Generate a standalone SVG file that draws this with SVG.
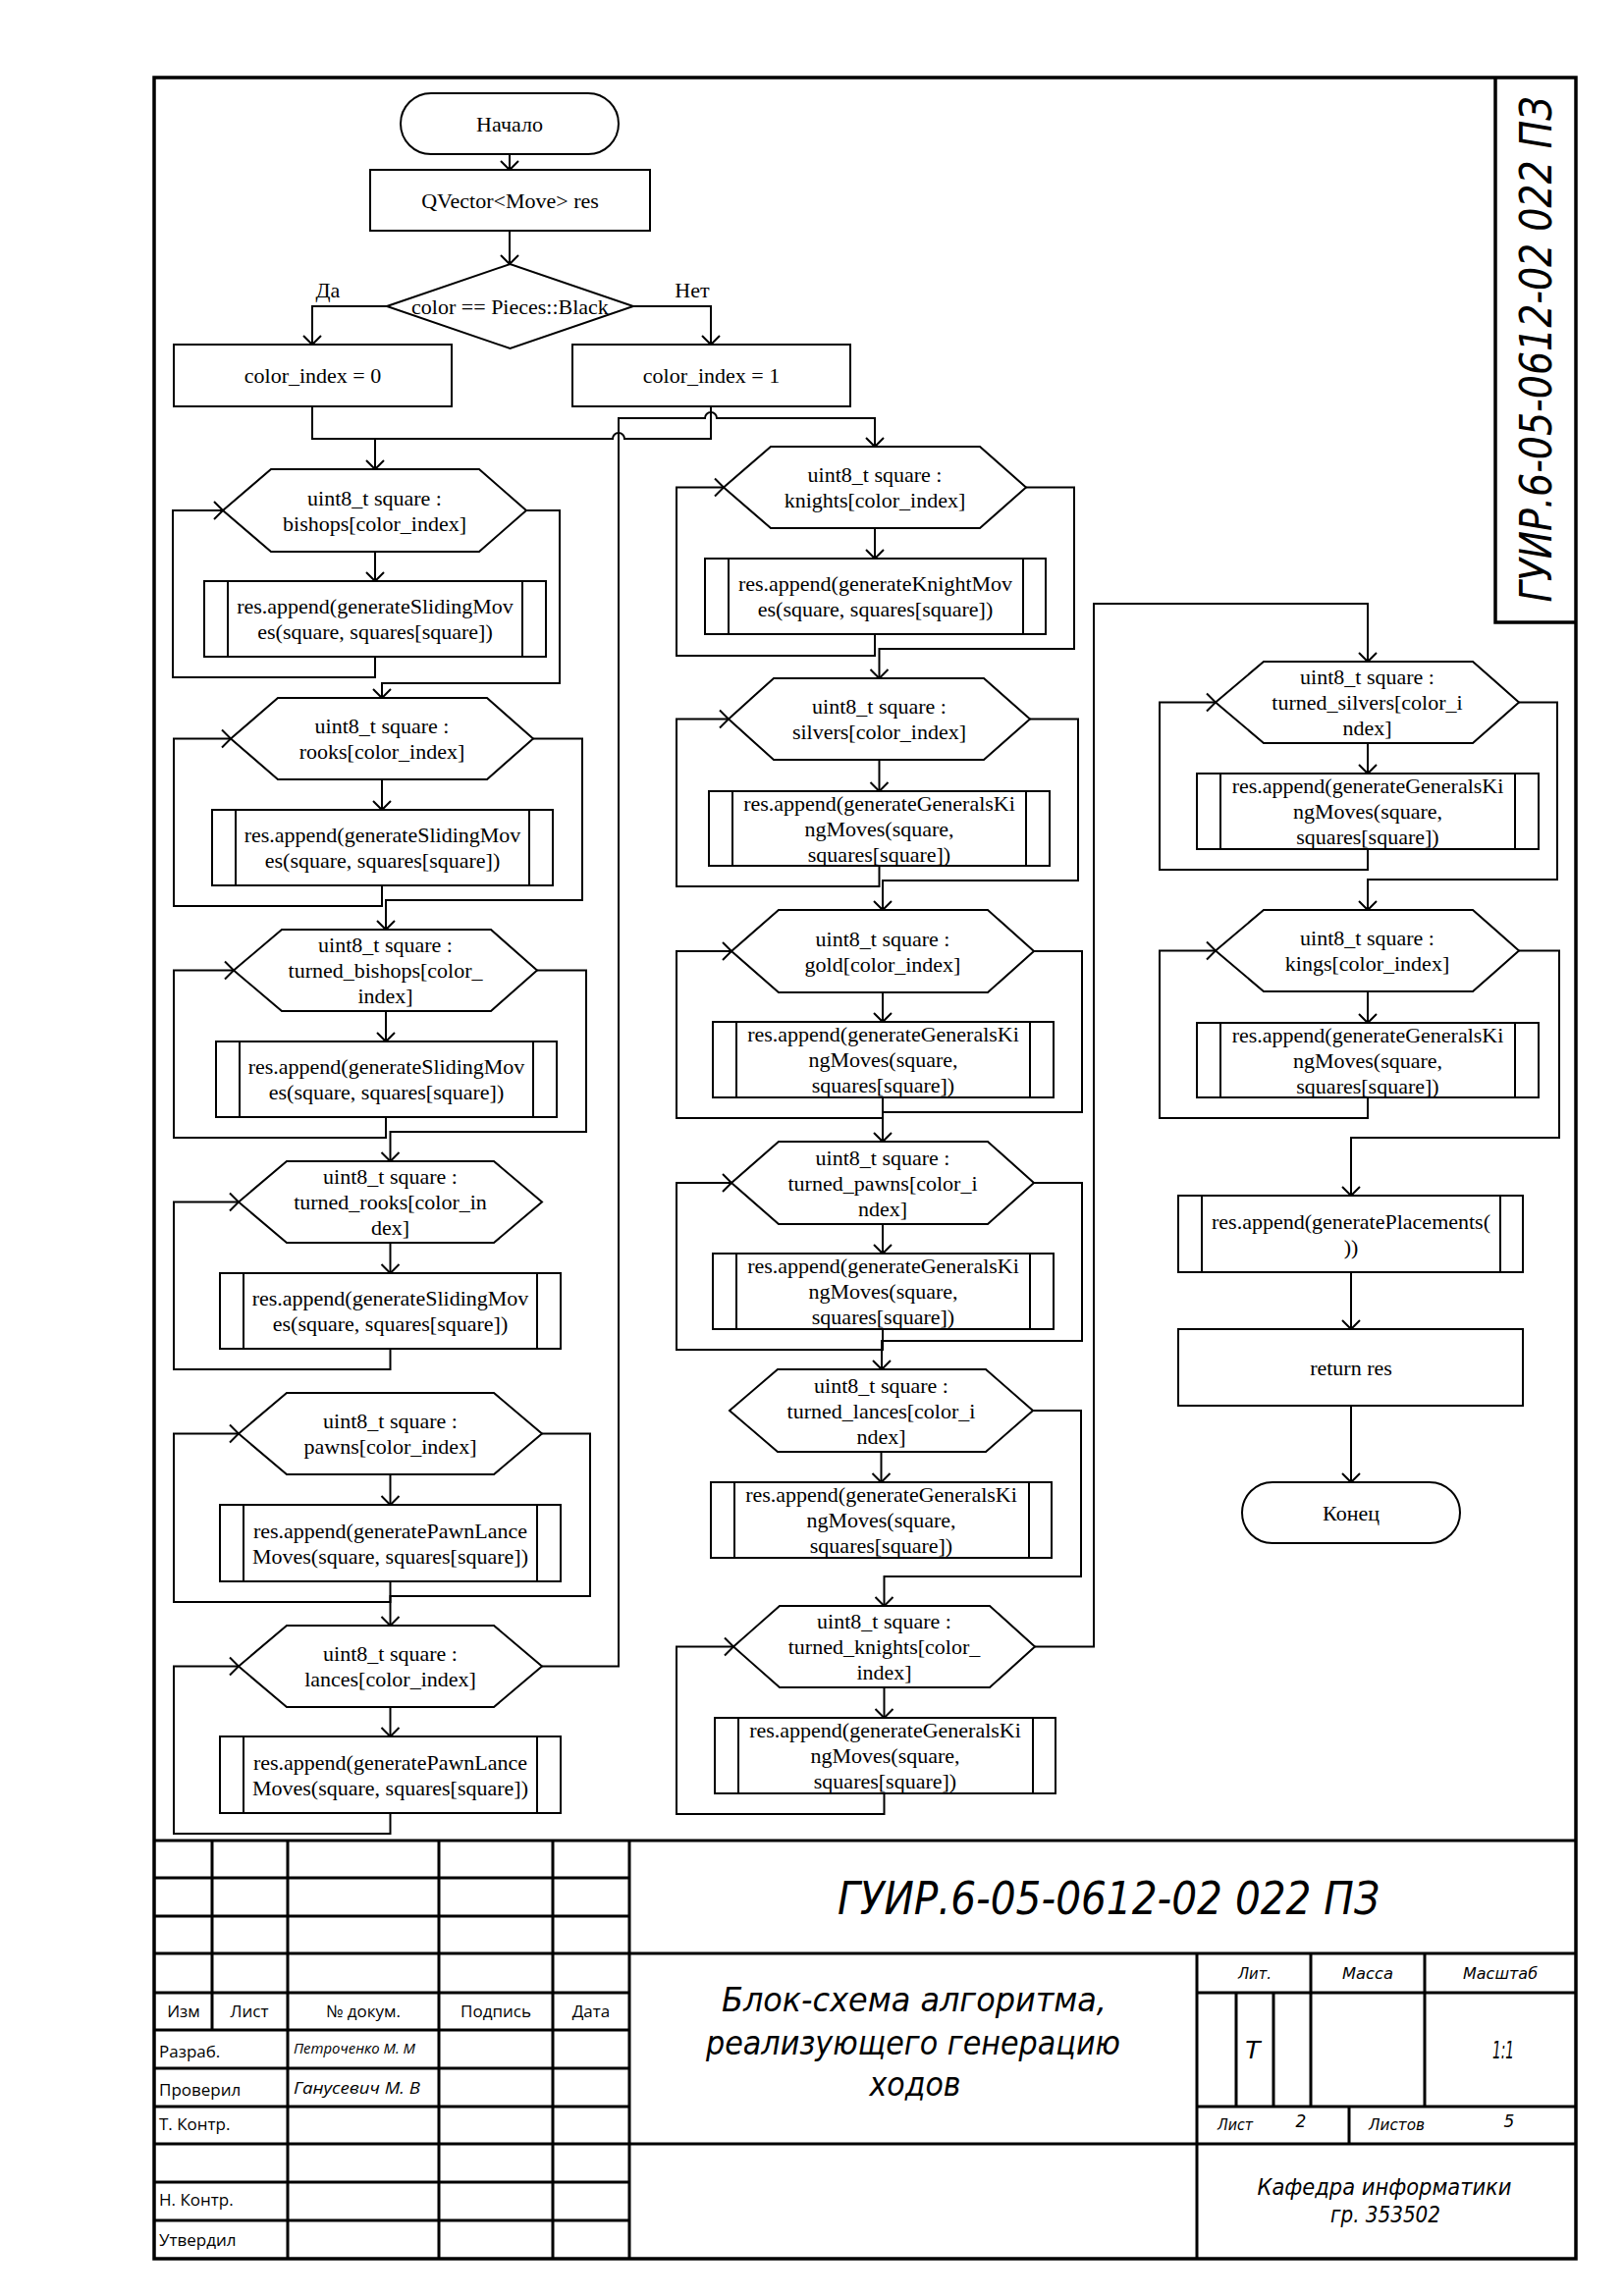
<svg xmlns="http://www.w3.org/2000/svg" width="1654" height="2339" viewBox="0 0 1654 2339">
<style>
.s{fill:#fff;stroke:#000;stroke-width:2}
.c{fill:none;stroke:#000;stroke-width:2}
.t{font-family:"Liberation Serif","Times New Roman",serif;font-size:22px;text-anchor:middle;fill:#000}
.fr{fill:none;stroke:#000;stroke-width:3.5}
.g{fill:none;stroke:#000;stroke-width:3}
.st{font-family:"Open Sans","Noto Sans",sans-serif;font-size:17px;fill:#000}
.ni{font-family:"Open Sans","Noto Sans",sans-serif;font-style:italic;fill:#000}
.gi{font-family:"DejaVu Sans","Open Sans",sans-serif;font-style:italic;fill:#000}
</style>
<defs>
<marker id="a" markerUnits="userSpaceOnUse" markerWidth="24" markerHeight="24" viewBox="-12 -12 24 24" refX="0" refY="0" orient="auto"><path d="M-9,-9 L0,0 L-9,9" fill="none" stroke="#000" stroke-width="2"/></marker>
</defs>
<rect width="1654" height="2339" fill="#fff"/>

<!-- frame -->
<g id="frame">
<rect class="fr" x="157" y="79" width="1448" height="2222"/>
<path class="fr" d="M1523,79 V634 H1605"/>
<text class="gi" transform="translate(1580,356) rotate(-90)" font-size="44" text-anchor="middle" textLength="515" lengthAdjust="spacingAndGlyphs">ГУИР.6-05-0612-02 022 ПЗ</text>
</g>

<!-- connectors -->
<g id="connectors" class="c">
<path d="M519,157 V173" marker-end="url(#a)"/>
<path d="M519,235 V269" marker-end="url(#a)"/>
<path d="M394,312 H318 V351" marker-end="url(#a)"/>
<path d="M645,312 H724 V351" marker-end="url(#a)"/>
<path d="M318,414 V447 H624 a6,6 0 0 1 12,0 H724 V414"/>
<path d="M382,447 V478" marker-end="url(#a)"/>
<!-- left column -->
<path d="M382,562 V592" marker-end="url(#a)"/>
<path d="M382,669 V690 H176 V520 H227" marker-end="url(#a)"/>
<path d="M536,520 H570 V696 H389 V711" marker-end="url(#a)"/>
<path d="M389,794 V825" marker-end="url(#a)"/>
<path d="M389,902 V923 H177 V752.5 H235" marker-end="url(#a)"/>
<path d="M543,752.5 H593 V917 H393 V947" marker-end="url(#a)"/>
<path d="M393,1030 V1061" marker-end="url(#a)"/>
<path d="M393,1138 V1159 H177 V988.5 H238" marker-end="url(#a)"/>
<path d="M547,988.5 H597 V1153 H397.5 V1183" marker-end="url(#a)"/>
<path d="M397.5,1266 V1297" marker-end="url(#a)"/>
<path d="M397.5,1374 V1395 H177 V1224.5 H243" marker-end="url(#a)"/>
<path d="M397.5,1502 V1533" marker-end="url(#a)"/>
<path d="M397.5,1611 V1632 H177 V1460.5 H243" marker-end="url(#a)"/>
<path d="M552,1460.5 H601 V1626 H397.5 V1656" marker-end="url(#a)"/>
<path d="M397.5,1739 V1769" marker-end="url(#a)"/>
<path d="M397.5,1847 V1868 H177 V1697.5 H243" marker-end="url(#a)"/>
<path d="M552,1697.5 H630 V426 H718 a6,6 0 0 1 12,0 H891 V455" marker-end="url(#a)"/>
<!-- middle column -->
<path d="M891,538 V569" marker-end="url(#a)"/>
<path d="M891,646 V668 H689 V496.5 H737" marker-end="url(#a)"/>
<path d="M1045,496.5 H1094 V661 H895.5 V691" marker-end="url(#a)"/>
<path d="M895.5,774 V806" marker-end="url(#a)"/>
<path d="M895.5,882 V903 H689 V732.5 H742" marker-end="url(#a)"/>
<path d="M1049,732.5 H1098 V897 H899 V927" marker-end="url(#a)"/>
<path d="M899,1011 V1041" marker-end="url(#a)"/>
<path d="M899,1118 V1139 H689 V969 H745" marker-end="url(#a)"/>
<path d="M1053,969 H1102 V1133 H899 V1163" marker-end="url(#a)"/>
<path d="M899,1247 V1277" marker-end="url(#a)"/>
<path d="M899,1354 V1375 H689 V1205 H745" marker-end="url(#a)"/>
<path d="M1053,1205 H1102 V1366 H898 V1395" marker-end="url(#a)"/>
<path d="M897.5,1479 V1510" marker-end="url(#a)"/>
<path d="M1052,1437 H1101 V1606 H900.5 V1636" marker-end="url(#a)"/>
<path d="M900.5,1719 V1750" marker-end="url(#a)"/>
<path d="M900.5,1827 V1848 H689 V1677.5 H747" marker-end="url(#a)"/>
<path d="M1054,1677.5 H1114 V615 H1393 V674" marker-end="url(#a)"/>
<!-- right column -->
<path d="M1393,757 V788" marker-end="url(#a)"/>
<path d="M1393,865 V886 H1181 V715.5 H1238" marker-end="url(#a)"/>
<path d="M1547,715.5 H1586 V896 H1393 V927" marker-end="url(#a)"/>
<path d="M1393,1010 V1042" marker-end="url(#a)"/>
<path d="M1393,1118 V1139 H1181 V968.5 H1238" marker-end="url(#a)"/>
<path d="M1547,968.5 H1588 V1159 H1376 V1218" marker-end="url(#a)"/>
<path d="M1376,1296 V1354" marker-end="url(#a)"/>
<path d="M1376,1432 V1510" marker-end="url(#a)"/>
</g>
<g id="labels">
<text class="t" x="334" y="303">Да</text>
<text class="t" x="705" y="303">Нет</text>
</g>

<!-- top nodes -->
<g id="start"><rect class="s" x="408" y="95" width="222" height="62" rx="31"/><text class="t" x="519" y="133.5">Начало</text></g>
<g id="init"><rect class="s" x="377" y="173" width="285" height="62"/><text class="t" x="519.5" y="211.5">QVector&lt;Move&gt; res</text></g>
<g id="cond"><polygon class="s" points="394,312 519.5,269 645,312 519.5,355"/><text class="t" x="519.5" y="319.5">color == Pieces::Black</text></g>
<g id="ci0"><rect class="s" x="177" y="351" width="283" height="63"/><text class="t" x="318.5" y="390">color_index = 0</text></g>
<g id="ci1"><rect class="s" x="583" y="351" width="283" height="63"/><text class="t" x="724.5" y="390">color_index = 1</text></g>

<!-- left column -->
<g id="loop_bishops"><polygon class="s" points="227,520 276,478 488,478 536,520 488,562 276,562"/><text class="t" x="381.5" y="514.5">uint8_t square :</text><text class="t" x="381.5" y="540.5">bishops[color_index]</text></g>
<g id="proc_bishops"><rect class="s" x="208" y="592" width="348" height="77"/><path class="c" d="M232,592 V669 M532,592 V669"/><text class="t" x="382" y="625">res.append(generateSlidingMov</text><text class="t" x="382" y="651">es(square, squares[square])</text></g>

<g id="loop_rooks"><polygon class="s" points="235,752.5 283,711 496,711 543,752.5 496,794 283,794"/><text class="t" x="389" y="747">uint8_t square :</text><text class="t" x="389" y="773">rooks[color_index]</text></g>
<g id="proc_rooks"><rect class="s" x="216" y="825" width="347" height="77"/><path class="c" d="M240,825 V902 M539,825 V902"/><text class="t" x="389.5" y="858">res.append(generateSlidingMov</text><text class="t" x="389.5" y="884">es(square, squares[square])</text></g>

<g id="loop_turned_bishops"><polygon class="s" points="238,988.5 287,947 500,947 547,988.5 500,1030 287,1030"/><text class="t" x="392.5" y="970">uint8_t square :</text><text class="t" x="392.5" y="996">turned_bishops[color_</text><text class="t" x="392.5" y="1022">index]</text></g>
<g id="proc_turned_bishops"><rect class="s" x="220" y="1061" width="347" height="77"/><path class="c" d="M244,1061 V1138 M543,1061 V1138"/><text class="t" x="393.5" y="1094">res.append(generateSlidingMov</text><text class="t" x="393.5" y="1120">es(square, squares[square])</text></g>

<g id="loop_turned_rooks"><polygon class="s" points="243,1224.5 292,1183 503,1183 552,1224.5 503,1266 292,1266"/><text class="t" x="397.5" y="1206">uint8_t square :</text><text class="t" x="397.5" y="1232">turned_rooks[color_in</text><text class="t" x="397.5" y="1258">dex]</text></g>
<g id="proc_turned_rooks"><rect class="s" x="224" y="1297" width="347" height="77"/><path class="c" d="M248,1297 V1374 M547,1297 V1374"/><text class="t" x="397.5" y="1330">res.append(generateSlidingMov</text><text class="t" x="397.5" y="1356">es(square, squares[square])</text></g>

<g id="loop_pawns"><polygon class="s" points="243,1460.5 292,1419 503,1419 552,1460.5 503,1502 292,1502"/><text class="t" x="397.5" y="1455">uint8_t square :</text><text class="t" x="397.5" y="1481">pawns[color_index]</text></g>
<g id="proc_pawns"><rect class="s" x="224" y="1533" width="347" height="78"/><path class="c" d="M248,1533 V1611 M547,1533 V1611"/><text class="t" x="397.5" y="1566.5">res.append(generatePawnLance</text><text class="t" x="397.5" y="1592.5">Moves(square, squares[square])</text></g>

<g id="loop_lances"><polygon class="s" points="243,1697.5 292,1656 503,1656 552,1697.5 503,1739 292,1739"/><text class="t" x="397.5" y="1692">uint8_t square :</text><text class="t" x="397.5" y="1718">lances[color_index]</text></g>
<g id="proc_lances"><rect class="s" x="224" y="1769" width="347" height="78"/><path class="c" d="M248,1769 V1847 M547,1769 V1847"/><text class="t" x="397.5" y="1802.5">res.append(generatePawnLance</text><text class="t" x="397.5" y="1828.5">Moves(square, squares[square])</text></g>

<!-- middle column -->
<g id="loop_knights"><polygon class="s" points="737,496.5 785,455 998,455 1045,496.5 998,538 785,538"/><text class="t" x="891" y="491">uint8_t square :</text><text class="t" x="891" y="517">knights[color_index]</text></g>
<g id="proc_knights"><rect class="s" x="718" y="569" width="347" height="77"/><path class="c" d="M742,569 V646 M1042,569 V646"/><text class="t" x="891.5" y="602">res.append(generateKnightMov</text><text class="t" x="891.5" y="628">es(square, squares[square])</text></g>

<g id="loop_silvers"><polygon class="s" points="742,732.5 788,691 1002,691 1049,732.5 1002,774 788,774"/><text class="t" x="895.5" y="727">uint8_t square :</text><text class="t" x="895.5" y="753">silvers[color_index]</text></g>
<g id="proc_silvers"><rect class="s" x="722" y="806" width="347" height="76"/><path class="c" d="M746,806 V882 M1045,806 V882"/><text class="t" x="895.5" y="825.5">res.append(generateGeneralsKi</text><text class="t" x="895.5" y="851.5">ngMoves(square,</text><text class="t" x="895.5" y="877.5">squares[square])</text></g>

<g id="loop_gold"><polygon class="s" points="745,969 793,927 1006,927 1053,969 1006,1011 793,1011"/><text class="t" x="899" y="963.5">uint8_t square :</text><text class="t" x="899" y="989.5">gold[color_index]</text></g>
<g id="proc_gold"><rect class="s" x="726" y="1041" width="347" height="77"/><path class="c" d="M750,1041 V1118 M1049,1041 V1118"/><text class="t" x="899.5" y="1061">res.append(generateGeneralsKi</text><text class="t" x="899.5" y="1087">ngMoves(square,</text><text class="t" x="899.5" y="1113">squares[square])</text></g>

<g id="loop_turned_pawns"><polygon class="s" points="745,1205 793,1163 1006,1163 1053,1205 1006,1247 793,1247"/><text class="t" x="899" y="1186.5">uint8_t square :</text><text class="t" x="899" y="1212.5">turned_pawns[color_i</text><text class="t" x="899" y="1238.5">ndex]</text></g>
<g id="proc_turned_pawns"><rect class="s" x="726" y="1277" width="347" height="77"/><path class="c" d="M750,1277 V1354 M1049,1277 V1354"/><text class="t" x="899.5" y="1297">res.append(generateGeneralsKi</text><text class="t" x="899.5" y="1323">ngMoves(square,</text><text class="t" x="899.5" y="1349">squares[square])</text></g>

<g id="loop_turned_lances"><polygon class="s" points="743,1437 792,1395 1004,1395 1052,1437 1004,1479 792,1479"/><text class="t" x="897.5" y="1418.5">uint8_t square :</text><text class="t" x="897.5" y="1444.5">turned_lances[color_i</text><text class="t" x="897.5" y="1470.5">ndex]</text></g>
<g id="proc_turned_lances"><rect class="s" x="724" y="1510" width="347" height="77"/><path class="c" d="M748,1510 V1587 M1048,1510 V1587"/><text class="t" x="897.5" y="1530">res.append(generateGeneralsKi</text><text class="t" x="897.5" y="1556">ngMoves(square,</text><text class="t" x="897.5" y="1582">squares[square])</text></g>

<g id="loop_turned_knights"><polygon class="s" points="747,1677.5 794,1636 1008,1636 1054,1677.5 1008,1719 794,1719"/><text class="t" x="900.5" y="1659">uint8_t square :</text><text class="t" x="900.5" y="1685">turned_knights[color_</text><text class="t" x="900.5" y="1711">index]</text></g>
<g id="proc_turned_knights"><rect class="s" x="728" y="1750" width="347" height="77"/><path class="c" d="M752,1750 V1827 M1052,1750 V1827"/><text class="t" x="901.5" y="1770">res.append(generateGeneralsKi</text><text class="t" x="901.5" y="1796">ngMoves(square,</text><text class="t" x="901.5" y="1822">squares[square])</text></g>

<!-- right column -->
<g id="loop_turned_silvers"><polygon class="s" points="1238,715.5 1287,674 1500,674 1547,715.5 1500,757 1287,757"/><text class="t" x="1392.5" y="697">uint8_t square :</text><text class="t" x="1392.5" y="723">turned_silvers[color_i</text><text class="t" x="1392.5" y="749">ndex]</text></g>
<g id="proc_turned_silvers"><rect class="s" x="1219" y="788" width="348" height="77"/><path class="c" d="M1243,788 V865 M1543,788 V865"/><text class="t" x="1393" y="808">res.append(generateGeneralsKi</text><text class="t" x="1393" y="834">ngMoves(square,</text><text class="t" x="1393" y="860">squares[square])</text></g>

<g id="loop_kings"><polygon class="s" points="1238,968.5 1287,927 1500,927 1547,968.5 1500,1010 1287,1010"/><text class="t" x="1392.5" y="963">uint8_t square :</text><text class="t" x="1392.5" y="989">kings[color_index]</text></g>
<g id="proc_kings"><rect class="s" x="1219" y="1042" width="348" height="76"/><path class="c" d="M1243,1042 V1118 M1543,1042 V1118"/><text class="t" x="1393" y="1061.5">res.append(generateGeneralsKi</text><text class="t" x="1393" y="1087.5">ngMoves(square,</text><text class="t" x="1393" y="1113.5">squares[square])</text></g>

<g id="proc_placements"><rect class="s" x="1200" y="1218" width="351" height="78"/><path class="c" d="M1224,1218 V1296 M1528,1218 V1296"/><text class="t" x="1376" y="1251.5">res.append(generatePlacements(</text><text class="t" x="1376" y="1277.5">))</text></g>
<g id="ret"><rect class="s" x="1200" y="1354" width="351" height="78"/><text class="t" x="1376" y="1400.5">return res</text></g>
<g id="end"><rect class="s" x="1265" y="1510" width="222" height="62" rx="31"/><text class="t" x="1376" y="1548.5">Конец</text></g>

<!-- title block -->
<g id="stamp">
<path class="g" d="M157,1875 H1605 M157,1990 H1605 M157,2184 H1605"/>
<path class="g" d="M157,1913 H641 M157,1952 H641 M157,2030 H641 M157,2068 H641 M157,2107 H641 M157,2146 H641 M157,2223 H641 M157,2262 H641"/>
<path class="g" d="M216,1875 V2068 M293,1875 V2301 M447,1875 V2301 M563,1875 V2301 M641,1875 V2301 M1219,1990 V2301"/>
<path class="g" d="M1219,2030 H1605 M1219,2146 H1605 M1335,1990 V2146 M1451,1990 V2146 M1259,2030 V2146 M1297,2030 V2146 M1374,2146 V2184"/>
<text class="st" x="187" y="2055" text-anchor="middle">Изм</text>
<text class="st" x="254" y="2055" text-anchor="middle">Лист</text>
<text class="st" x="370" y="2055" text-anchor="middle">№ докум.</text>
<text class="st" x="505" y="2055" text-anchor="middle">Подпись</text>
<text class="st" x="602" y="2055" text-anchor="middle">Дата</text>
<text class="st" x="162" y="2096">Разраб.</text>
<text class="st" x="162" y="2135">Проверил</text>
<text class="st" x="162" y="2170">Т. Контр.</text>
<text class="st" x="162" y="2247">Н. Контр.</text>
<text class="st" x="162" y="2288">Утвердил</text>
<text class="ni" x="299" y="2092" font-size="14" textLength="124" lengthAdjust="spacingAndGlyphs">Петроченко М. М</text>
<text class="ni" x="299" y="2133" font-size="17" textLength="129" lengthAdjust="spacingAndGlyphs">Ганусевич М. В</text>
<text class="gi" x="1129" y="1950" font-size="46" text-anchor="middle" textLength="552" lengthAdjust="spacingAndGlyphs">ГУИР.6-05-0612-02 022 ПЗ</text>
<text class="gi" x="931" y="2049" font-size="34" text-anchor="middle" textLength="392" lengthAdjust="spacingAndGlyphs">Блок-схема алгоритма,</text>
<text class="gi" x="930" y="2093" font-size="34" text-anchor="middle" textLength="422" lengthAdjust="spacingAndGlyphs">реализующего генерацию</text>
<text class="gi" x="932" y="2135" font-size="34" text-anchor="middle" textLength="93" lengthAdjust="spacingAndGlyphs">ходов</text>
<text class="gi" x="1278" y="2016" font-size="16" text-anchor="middle" textLength="34" lengthAdjust="spacingAndGlyphs">Лит.</text>
<text class="gi" x="1393" y="2016" font-size="16" text-anchor="middle" textLength="52" lengthAdjust="spacingAndGlyphs">Масса</text>
<text class="gi" x="1528" y="2016" font-size="16" text-anchor="middle" textLength="76" lengthAdjust="spacingAndGlyphs">Масштаб</text>
<text class="gi" x="1276" y="2097" font-size="25" text-anchor="middle">Т</text>
<text class="gi" x="1531" y="2097" font-size="25" text-anchor="middle" textLength="22" lengthAdjust="spacingAndGlyphs">1:1</text>
<text class="gi" x="1240" y="2170" font-size="16" textLength="36" lengthAdjust="spacingAndGlyphs">Лист</text>
<text class="gi" x="1325" y="2167" font-size="17" text-anchor="middle">2</text>
<text class="gi" x="1394" y="2170" font-size="16" textLength="57" lengthAdjust="spacingAndGlyphs">Листов</text>
<text class="gi" x="1537" y="2167" font-size="17" text-anchor="middle">5</text>
<text class="gi" x="1410" y="2236" font-size="23" text-anchor="middle" textLength="259" lengthAdjust="spacingAndGlyphs">Кафедра информатики</text>
<text class="gi" x="1411" y="2264" font-size="23" text-anchor="middle" textLength="112" lengthAdjust="spacingAndGlyphs">гр. 353502</text>
</g>
</svg>
